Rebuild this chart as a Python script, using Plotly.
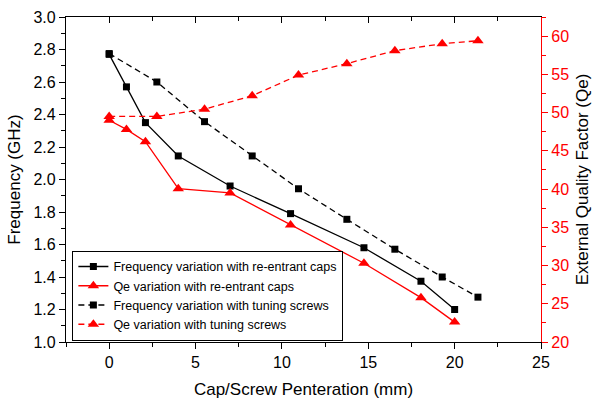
import plotly.graph_objects as go

# Re-entrant caps
caps_x = [0, 1.0, 2.1, 4.0, 7.0, 10.5, 14.75, 18.05, 20.0]
caps_freq = [2.77, 2.57, 2.35, 2.145, 1.96, 1.79, 1.58, 1.374, 1.20]
caps_qe = [49.0, 47.8, 46.2, 40.05, 39.5, 35.3, 30.3, 25.8, 22.6]

# Tuning screws
screw_x = [0, 2.76, 5.52, 8.28, 10.96, 13.76, 16.54, 19.28, 21.35]
screw_freq = [2.775, 2.60, 2.356, 2.145, 1.943, 1.755, 1.571, 1.40, 1.276]
screw_qe = [49.5, 49.5, 50.45, 52.2, 54.9, 56.4, 58.1, 59.0, 59.4]

BLACK = "#000000"
RED = "#ff0000"
FONT = "Liberation Sans, Arial, sans-serif"
DASH = "6px,4px"

fig = go.Figure()

fig.add_trace(go.Scatter(
    x=caps_x, y=caps_freq, name="Frequency variation with re-entrant caps",
    mode="lines+markers", line=dict(color=BLACK, width=1.3),
    marker=dict(symbol="square", size=7, color=BLACK), yaxis="y"))
fig.add_trace(go.Scatter(
    x=caps_x, y=caps_qe, name="Qe variation with re-entrant caps",
    mode="lines+markers", line=dict(color=RED, width=1.3),
    marker=dict(symbol="triangle-up", size=10, color=RED), yaxis="y2"))
fig.add_trace(go.Scatter(
    x=screw_x, y=screw_freq, name="Frequency variation with tuning screws",
    mode="lines+markers", line=dict(color=BLACK, width=1.3, dash=DASH),
    marker=dict(symbol="square", size=7, color=BLACK), yaxis="y"))
fig.add_trace(go.Scatter(
    x=screw_x, y=screw_qe, name="Qe variation with tuning screws",
    mode="lines+markers", line=dict(color=RED, width=1.3, dash=DASH),
    marker=dict(symbol="triangle-up", size=10, color=RED), yaxis="y2"))

# empty trace carrying the top frame axis
fig.add_trace(go.Scatter(x=[], y=[], xaxis="x2", yaxis="y", showlegend=False,
                         hoverinfo="skip"))

tickfont = dict(family=FONT, size=16, color=BLACK)
titlefont = dict(family=FONT, size=17, color=BLACK)

fig.update_layout(
    width=592, height=399,
    margin=dict(l=66, r=51, t=17, b=57),
    paper_bgcolor="white", plot_bgcolor="white",
    font=dict(family=FONT, size=14, color=BLACK),
    showlegend=True,
    legend=dict(
        x=0.013, y=0.004, xanchor="left", yanchor="bottom",
        bgcolor="white", bordercolor=BLACK, borderwidth=1.2,
        font=dict(family=FONT, size=12.5, color=BLACK),
        tracegroupgap=0, itemwidth=30,
    ),
    xaxis=dict(
        range=[-2.5, 25], dtick=5, tick0=0, showgrid=False, zeroline=False,
        automargin=False,
        showline=True, linecolor=BLACK, linewidth=1.3,
        ticks="outside", ticklen=6, tickwidth=1.3, tickcolor=BLACK,
        minor=dict(dtick=2.5, tick0=0, ticks="outside", ticklen=3.5,
                   tickwidth=1.2, tickcolor=BLACK),
        tickfont=tickfont,
        title=dict(text="Cap/Screw Penteration (mm)", standoff=14,
                   font=titlefont),
    ),
    xaxis2=dict(
        range=[-2.5, 25], dtick=5, tick0=0, overlaying="x", side="top",
        anchor="y", showgrid=False, zeroline=False, showticklabels=False,
        automargin=False,
        showline=True, linecolor=BLACK, linewidth=1.3,
        ticks="inside", ticklen=6, tickwidth=1.3, tickcolor=BLACK,
        minor=dict(dtick=2.5, tick0=0, ticks="inside", ticklen=3.5,
                   tickwidth=1.2, tickcolor=BLACK),
    ),
    yaxis=dict(
        range=[1.0, 3.0], dtick=0.2, tick0=1.0, tickformat=".1f",
        showgrid=False, zeroline=False, automargin=False,
        showline=True, linecolor=BLACK, linewidth=1.3,
        ticks="outside", ticklen=6, tickwidth=1.3, tickcolor=BLACK,
        minor=dict(dtick=0.1, tick0=1.0, ticks="outside", ticklen=3.5,
                   tickwidth=1.2, tickcolor=BLACK),
        tickfont=tickfont,
        title=dict(text="Frequency (GHz)", standoff=8, font=titlefont),
    ),
    yaxis2=dict(
        range=[20, 62.5], dtick=5, tick0=20, overlaying="y", side="right",
        showgrid=False, zeroline=False, automargin=False,
        showline=True, linecolor=RED, linewidth=1.3,
        ticks="outside", ticklen=6, tickwidth=1.3, tickcolor=RED,
        minor=dict(dtick=2.5, tick0=20, ticks="outside", ticklen=3.5,
                   tickwidth=1.2, tickcolor=RED),
        tickfont=dict(family=FONT, size=16, color=RED),
        title=dict(text="External Quality Factor (Qe)", standoff=9,
                   font=titlefont),
    ),
)

fig.write_html("out.html")
